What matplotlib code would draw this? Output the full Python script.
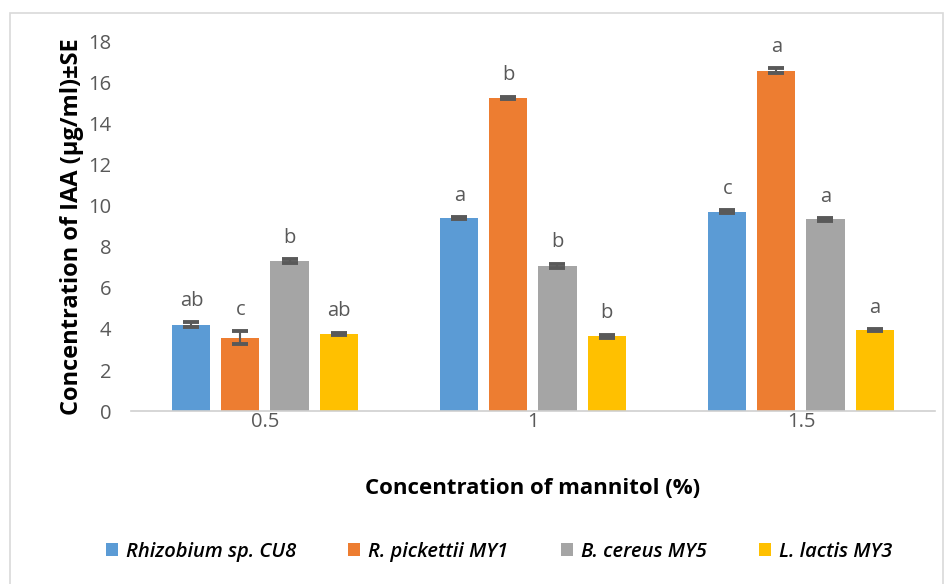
import matplotlib.pyplot as plt
import numpy as np
from matplotlib.patches import Rectangle

plt.rcParams['font.family'] = ['Open Sans', 'DejaVu Sans']

groups = ['0.5', '1', '1.5']
strains = ['Rhizobium sp. CU8', 'R. pickettii MY1', 'B. cereus MY5', 'L. lactis MY3']
colors = ['#5b9bd5', '#ed7d31', '#a5a5a5', '#ffc000']

# mean IAA per strain, one value per mannitol level
rhizobium = [4.2, 9.4, 9.72]
pickettii = [3.58, 15.28, 16.6]
cereus = [7.3, 7.09, 9.35]
lactis = [3.77, 3.64, 3.95]

rhizobium_se = [0.12, 0.05, 0.07]
pickettii_se = [0.32, 0.05, 0.12]
cereus_se = [0.09, 0.1, 0.07]
lactis_se = [0.05, 0.08, 0.05]

rhizobium_let = ['ab', 'a', 'c']
pickettii_let = ['c', 'b', 'a']
cereus_let = ['b', 'b', 'a']
lactis_let = ['ab', 'b', 'a']

vals = [rhizobium, pickettii, cereus, lactis]
errs = [rhizobium_se, pickettii_se, cereus_se, lactis_se]
lets = [rhizobium_let, pickettii_let, cereus_let, lactis_let]

fig = plt.figure(figsize=(9.52, 5.84), dpi=100)
ax = fig.add_axes([0.1376, 0.2962, 0.8445, 0.632])

x = np.arange(len(groups))
w = 0.142
step = 0.183
for i in range(4):
    pos = x + (i - 1.5) * step
    ax.bar(pos, vals[i], w, color=colors[i], label=strains[i], zorder=2)
    ax.errorbar(pos, vals[i], yerr=errs[i], fmt='none', ecolor='#595959',
                elinewidth=1.5, capsize=5.5, capthick=2.8, zorder=3)
    for j in range(len(groups)):
        ax.text(pos[j], vals[i][j] + errs[i][j] + 0.55, lets[i][j], ha='center',
                va='bottom', fontsize=14.5, color='#595959')

ax.set_ylim(0, 18)
ax.set_xlim(-0.5, 2.5)
ax.set_yticks(range(0, 19, 2))
ax.set_xticks(x)
ax.set_xticklabels(groups)
ax.tick_params(axis='y', length=0, labelsize=14.5, colors='#595959', pad=14)
ax.tick_params(axis='x', length=0, labelsize=14.5, colors='#595959', pad=1)
for s in ['top', 'right', 'left']:
    ax.spines[s].set_visible(False)
ax.spines['bottom'].set_color('#d0d0d0')
ax.spines['bottom'].set_linewidth(1.2)

ax.set_ylabel('Concentration of IAA (µg/ml)±SE', fontsize=17, fontweight='bold', labelpad=3)
ax.set_xlabel('Concentration of mannitol (%)', fontsize=16, fontweight='bold', labelpad=33)

leg = ax.legend(loc='upper center', bbox_to_anchor=(0.458, -0.305), ncol=4, frameon=False,
                handlelength=0.6, handleheight=0.6, handletextpad=0.4, columnspacing=2.6,
                prop={'style': 'italic', 'weight': 'semibold', 'size': 14.5})

fig.patches.append(Rectangle((0.011, -0.1), 0.98, 1.078, transform=fig.transFigure,
                             fill=False, edgecolor='#d9d9d9', linewidth=1.2))

fig.savefig('out.png', dpi=100)
